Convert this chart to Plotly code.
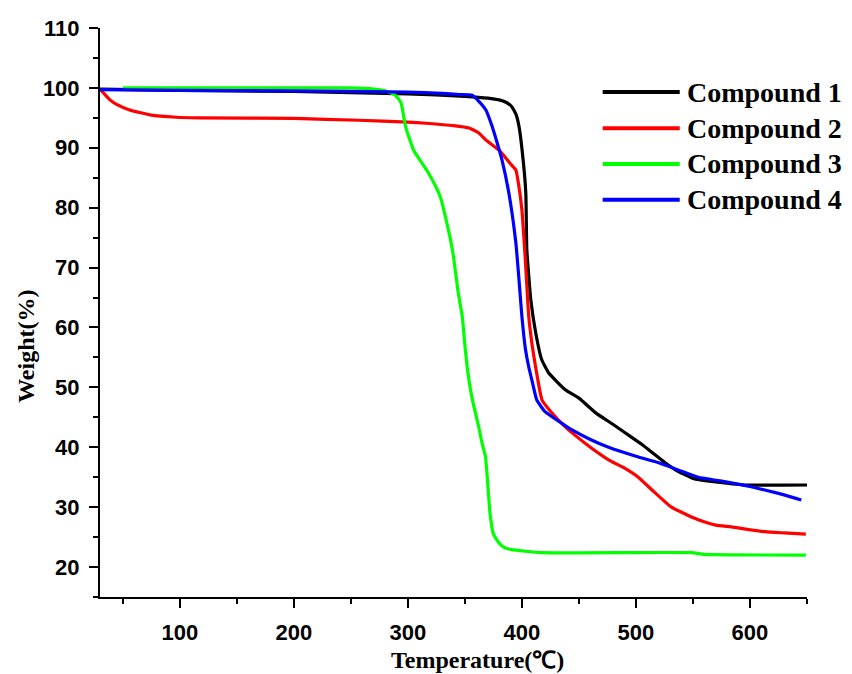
import plotly.graph_objects as go

names = ["Compound 1", "Compound 2", "Compound 3", "Compound 4"]
colors = ["#000000", "#FF0000", "#00FF00", "#0000FF"]

t1 = [30, 100, 200, 300, 350, 370, 380, 386, 391, 395, 397.5, 400.5, 403.4, 404.3, 407.8, 412.2, 417.4, 423.5, 438, 450, 465, 480, 496, 505, 515, 525, 535, 550, 570, 596, 650]
w1 = [99.8, 99.6, 99.4, 99.0, 98.6, 98.3, 98.0, 97.6, 96.9, 95.5, 93.5, 89, 82.5, 73, 64.6, 59, 54.6, 52.4, 49.6, 48.2, 45.7, 43.8, 41.7, 40.5, 39, 37.5, 36.2, 34.8, 34.2, 33.7, 33.7]

t2 = [30, 38.7, 45, 56, 73.7, 97, 117.5, 200, 257, 300, 316, 340, 353.6, 362, 368.4, 380, 391, 394.7, 397, 400, 403, 406, 409, 412, 417.6, 425, 438, 444, 460, 476, 490, 502, 515, 531, 545, 554.7, 570, 583.6, 613, 630, 649]
w2 = [99.8, 98, 97.2, 96.3, 95.5, 95.1, 95.0, 94.9, 94.6, 94.3, 94.1, 93.7, 93.3, 92.5, 91.3, 89.6, 87.1, 86.3, 84, 79.6, 71.3, 61.8, 57, 53.4, 47.9, 46, 43.4, 42.4, 40, 37.9, 36.5, 35, 32.7, 30, 28.7, 27.9, 27, 26.7, 25.9, 25.7, 25.5]

t3 = [50, 100, 200, 250, 270, 280, 286, 290, 294, 298, 305, 312.5, 318, 324.5, 329, 333, 337, 340, 344, 347.7, 350, 352, 355, 358, 362, 365, 368, 370, 372, 375, 380, 385, 391, 417, 549, 560, 649]
w3 = [100, 100, 100, 100, 99.8, 99.5, 99.1, 98.6, 97.5, 93.5, 89.6, 87.4, 85.8, 83.5, 81.5, 78.4, 75, 71.8, 66, 61.8, 57, 53.4, 49.5, 46.7, 43.5, 40.7, 38.5, 34, 29, 25.5, 24, 23.2, 22.9, 22.4, 22.4, 22.1, 22.0]

t4 = [30, 100, 200, 300, 330, 345, 356, 362, 368.4, 374, 378, 382.5, 388.5, 394.7, 397, 400, 403, 406, 409, 413, 420, 435, 444, 460, 476, 500, 520, 540, 554.7, 580, 601, 625, 645]
w4 = [99.7, 99.6, 99.5, 99.3, 99.1, 98.9, 98.8, 97.8, 96.3, 93.5, 91, 88, 82.5, 74.1, 69, 61.8, 56.5, 53.4, 51, 47.9, 46, 44, 42.9, 41.3, 40.0, 38.5, 37.4, 36, 35.0, 34.2, 33.4, 32.3, 31.2]

temps = [t1, t2, t3, t4]
weights = [w1, w2, w3, w4]

x_title = "Temperature(℃)"
y_title = "Weight(%)"

fig = go.Figure()
for name, col, t, w in zip(names, colors, temps, weights):
    fig.add_trace(go.Scatter(x=t, y=w, mode="lines", name=name,
                             line=dict(color=col, width=3.2, shape="spline", smoothing=0.4),
                             showlegend=False))

# manual legend
leg_y = [0.8875, 0.824, 0.761, 0.698]
for name, col, yy in zip(names, colors, leg_y):
    fig.add_shape(type="line", xref="paper", yref="paper", x0=0.711, x1=0.820,
                  y0=yy, y1=yy, line=dict(color=col, width=4))
    fig.add_annotation(xref="paper", yref="paper", x=0.827, y=yy, text=name,
                       showarrow=False, xanchor="left", yanchor="middle",
                       font=dict(family="Liberation Serif", size=28, color="black", weight="bold"))

fig.add_annotation(xref="paper", yref="paper", x=0.534, y=-0.111, text=x_title,
                   showarrow=False, xanchor="center", yanchor="middle",
                   font=dict(family="Liberation Serif", size=24, color="black", weight="bold"))
fig.add_annotation(xref="paper", yref="paper", x=-0.105, y=0.441, text=y_title,
                   showarrow=False, xanchor="center", yanchor="middle", textangle=-90,
                   font=dict(family="Liberation Serif", size=24, color="black", weight="bold"))

tickfont = dict(family="Liberation Sans", size=22, color="black", weight="bold")
fig.update_xaxes(range=[30, 650], showline=True, linecolor="black", linewidth=2,
                 ticks="outside", ticklen=9, tickwidth=2, tickcolor="black",
                 tick0=0, dtick=100, showgrid=False, zeroline=False,
                 minor=dict(ticks="outside", ticklen=5, tickwidth=2, tickcolor="black", tick0=0, dtick=50),
                 tickfont=tickfont, ticklabelstandoff=6)
fig.update_yaxes(range=[15, 110], showline=True, linecolor="black", linewidth=2,
                 ticks="outside", ticklen=9, tickwidth=2, tickcolor="black",
                 tick0=0, dtick=10, showgrid=False, zeroline=False,
                 minor=dict(ticks="outside", ticklen=5, tickwidth=2, tickcolor="black", tick0=5, dtick=5),
                 tickfont=tickfont, ticklabelstandoff=5)

fig.update_layout(width=852, height=674, margin=dict(l=100, r=45, t=28, b=77),
                  plot_bgcolor="white", paper_bgcolor="white")

fig.write_html("out.html")
